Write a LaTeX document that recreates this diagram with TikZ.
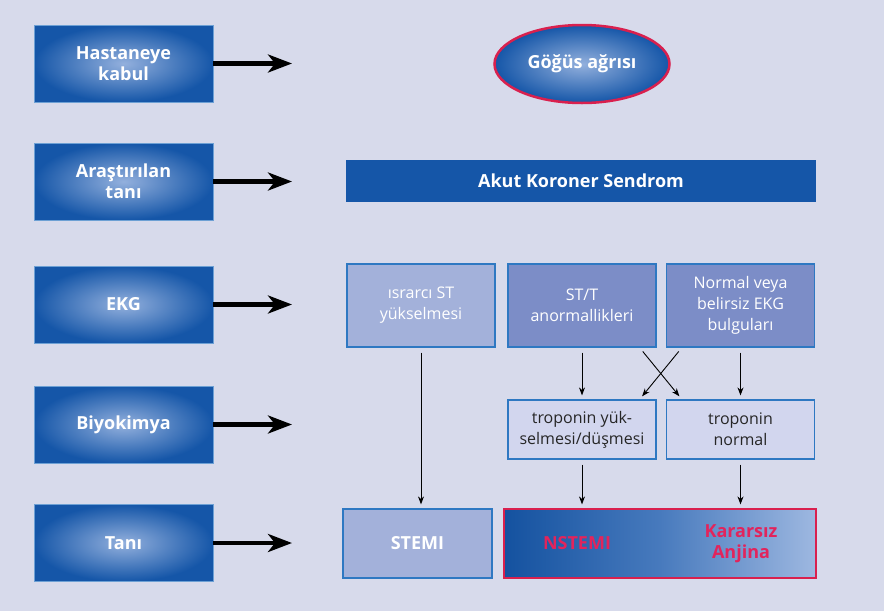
\documentclass[tikz,border=0pt]{standalone}
\usepackage{fontspec}
\setmainfont{Open Sans}
\usetikzlibrary{arrows.meta,calc,shapes.geometric}

\definecolor{bgcol}{HTML}{D7DAEB}
\definecolor{darkblue}{HTML}{1556A8}
\definecolor{lightblue}{HTML}{93B0DD}
\definecolor{ekglight}{HTML}{A3B1DA}
\definecolor{ekgmid}{HTML}{7C8DC7}
\definecolor{frameblue}{HTML}{2E78C2}
\definecolor{biyofill}{HTML}{D2D6EE}
\definecolor{redline}{HTML}{D9204E}
\definecolor{redtext}{HTML}{E2245C}

\tikzset{
  stage/.style={draw=frameblue!70,line width=0.8pt,inner color=lightblue,outer color=darkblue,
    minimum width=179pt,minimum height=77pt,align=center,text=white,
    font=\fontsize{18}{21}\selectfont\bfseries},
  bigarrow/.style={line width=4.5pt,-{Stealth[length=24pt,width=18pt,inset=7pt]}},
  ekgbox/.style={draw=frameblue,line width=1.2pt,minimum width=148pt,minimum height=83pt,
    align=center,text=white,font=\fontsize{16}{21}\selectfont},
  biyobox/.style={draw=frameblue,line width=1.2pt,fill=biyofill,minimum width=148pt,
    minimum height=59pt,align=center,text=black!85,font=\fontsize{16}{21}\selectfont},
  small/.style={line width=0.9pt,-{Stealth[length=8pt,width=6pt]},shorten <=5pt,shorten >=4pt},
}

\begin{document}
\begin{tikzpicture}[x=1pt,y=-1pt]
  % arka plan
  \fill[bgcol] (0,0) rectangle (884,611);
  \useasboundingbox (0,0) rectangle (884,611);

  % sol sutun
  \node[stage] (hastane) at (123.5,63.5) {Hastaneye\\kabul};
  \node[stage] (arastirma) at (123.5,181.5) {Araştırılan\\tanı};
  \node[stage] (ekg) at (123.5,304.5) {EKG};
  \node[stage] (biyo) at (123.5,424.5) {Biyokimya};
  \node[stage] (tani) at (123.5,543) {Tanı};

  % oklarin uclari
  \foreach \n/\y in {hastane/63.5,arastirma/181.5,ekg/304.5,biyo/424.5,tani/543}{
    \coordinate (\n-uc) at (292,\y);
    \draw[bigarrow] (\n.east) -- (\n-uc);
  }

  % gogus agrisi
  \node[ellipse,draw=redline,line width=2.5pt,inner color=lightblue,outer color=darkblue,
    minimum width=175pt,minimum height=78pt,text=white,
    font=\fontsize{18}{21}\selectfont\bfseries] (gogus) at (582,64) {Göğüs ağrısı};

  % AKS
  \node[fill=darkblue,minimum width=470pt,minimum height=42pt,text=white,
    font=\fontsize{18}{21}\selectfont\bfseries] (aks) at (581,181) {Akut Koroner Sendrom};

  % EKG
  \node[ekgbox,fill=ekglight] (israrci) at (421,305.5) {ısrarcı ST\\yükselmesi};
  \node[ekgbox,fill=ekgmid] (stt) at (582,305.5) {ST/T\\anormallikleri};
  \node[ekgbox,fill=ekgmid] (normal) at (740.5,305.5) {Normal veya\\belirsiz EKG\\bulguları};

  % biyokimya
  \node[biyobox] (tropyuk) at (582,429.5) {troponin yük-\\selmesi/düşmesi};
  \node[biyobox] (tropnor) at (740.5,429.5) {troponin\\normal};

  % tani
  \node[draw=frameblue,line width=1.2pt,fill=ekglight,minimum width=149pt,minimum height=69pt,
    text=white,font=\fontsize{18}{21}\selectfont\bfseries] (stemi) at (417.5,543.5) {STEMI};
  \node[draw=redline,line width=1.2pt,left color=darkblue!95!black,right color=lightblue!90!white,
    middle color=darkblue!60!lightblue,minimum width=312pt,minimum height=69pt] (nstemi) at (660,543.5) {};
  \node[text=redtext,font=\fontsize{18}{21}\selectfont\bfseries] (nstemilbl) at (577,543.5) {NSTEMI};
  \node[text=redtext,align=center,font=\fontsize{18}{21}\selectfont\bfseries] (kararsiz) at (741,543.5) {Kararsız\\Anjina};

  % oklar
  \draw[small] (stt) -- (tropyuk);
  \draw[small] (normal) -- (tropnor);
  \draw[small] ([shift={(-17,0)}]stt.south east) -- ([shift={(16,0)}]tropnor.north west);
  \draw[small] ([shift={(16,0)}]normal.south west) -- ([shift={(-17,0)}]tropyuk.north east);
  \draw[small] (israrci.south) -- (israrci.south |- stemi.north);
  \draw[small] (tropyuk.south) -- (tropyuk.south |- nstemi.north);
  \draw[small] (tropnor.south) -- (tropnor.south |- nstemi.north);
\end{tikzpicture}
\end{document}
